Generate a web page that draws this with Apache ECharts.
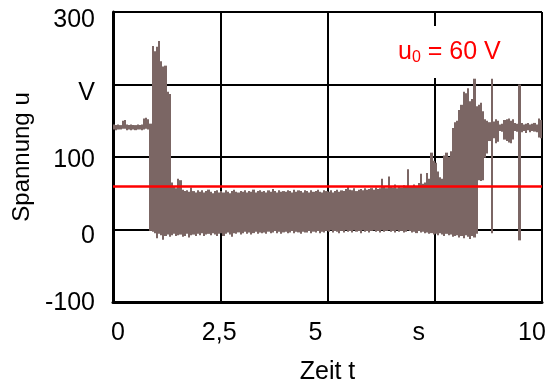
<!DOCTYPE html>
<html>
<head>
<meta charset="utf-8">
<script src="https://cdn.jsdelivr.net/npm/echarts@6/dist/echarts.min.js"></script>
<style>
  html, body { margin: 0; padding: 0; background: #fff; }
  #chart { width: 550px; height: 381px; }
</style>
</head>
<body>
<div id="chart"></div>
<script>
// Voltage trace u(t), stored as min/max per 0.05 s column (envelope of the sampled signal)
const sampleStep = 0.05; // s per column
const uMax = [
  145,144,145,144,150,151,145,144,145,144,
  144,145,144,145,153,154,152,146,253,246,
  252,260,232,225,226,190,187,65,60,57,
  70,68,55,53,54,52,58,53,51,54,
  52,54,51,53,55,52,50,53,54,51,
  53,51,54,52,50,53,55,52,51,53,
  52,54,51,53,52,55,51,53,54,52,
  53,51,54,52,56,53,51,54,52,53,
  52,54,53,51,55,52,54,53,51,54,
  53,51,54,52,53,55,52,51,54,53,
  52,54,51,53,55,52,54,53,56,60,
  55,54,57,53,55,56,54,57,55,56,
  57,55,58,56,57,70,59,57,73,60,
  58,62,57,59,58,61,60,83,60,59,
  62,60,64,77,63,65,78,70,106,95,
  92,80,72,70,102,106,100,108,140,148,
  150,165,172,190,188,195,177,180,208,170,
  172,175,163,152,150,148,208,149,152,150,
  145,146,151,152,153,150,152,147,146,200,
  147,145,146,147,145,146,147,145,153,151
];
const uMin = [
  138,137,138,138,139,139,137,138,137,138,
  137,138,138,137,138,139,138,-2,-3,-5,
  -12,-6,-8,-14,-9,-7,-10,-8,-6,-9,
  -8,-7,-10,-9,-6,-11,-8,-7,-9,-6,
  -8,-5,-9,-7,-6,-8,-5,-7,-9,-6,
  -5,-9,-6,-4,-7,-10,-5,-6,-4,-7,
  -5,-3,-6,-4,-7,-5,-3,-6,-4,-5,
  -4,-6,-3,-5,-4,-2,-5,-3,-6,-4,
  -3,-5,-4,-2,-5,-3,-4,-6,-3,-4,
  -4,-2,-5,-3,-4,-2,-5,-3,-4,-2,
  -3,-1,-4,-2,-3,-5,-2,-4,-1,-3,
  -2,-4,-1,-3,-2,-5,-1,-3,-2,-4,
  -2,-1,-3,-2,-4,-1,-3,-2,-1,-3,
  -2,-4,-1,-3,-2,-4,-3,-1,-2,-4,
  -3,-5,-2,-4,-3,-5,-4,-6,-5,-7,
  -6,-8,-5,-7,-9,-6,-8,-7,-10,-9,
  -8,-11,-9,-12,-8,-10,-13,-9,-11,-6,
  68,67,68,99,105,122,-5,126,119,121,
  136,135,124,122,120,119,124,136,135,-15,
  134,136,133,137,134,136,135,134,127,126
];
const u0Level = 60; // V
const xTickLabels = ['0', '2,5', '5', 's', '10'];
const yTickLabels = ['-100', '0', '100', 'V', '300'];

// label nudges (px): x to the right, y downward
const xLabelShift = [5, -1, -12, -16, -10];
const yLabelShift = [1, 7, 3, 9, 8];

const traceData = uMax.map((hi, i) => [i * sampleStep, uMin[i], hi]);

const fontFamily = 'Liberation Sans, Arial, sans-serif';
const traceColor = '#7b6664';

const xRich = {};
xLabelShift.forEach((s, i) => {
  xRich['x' + i] = { fontSize: 25, fontFamily, color: '#000',
    padding: s >= 0 ? [0, 0, 0, 2 * s] : [0, -2 * s, 0, 0] };
});
const yRich = {};
yLabelShift.forEach((s, i) => {
  yRich['y' + i] = { fontSize: 25, fontFamily, color: '#000',
    padding: s >= 0 ? [2 * s, 0, 0, 0] : [0, 0, -2 * s, 0] };
});

const chart = echarts.init(document.getElementById('chart'), null, { renderer: 'canvas' });
chart.setOption({
  animation: false,
  backgroundColor: '#fff',
  grid: { left: 113, right: 8, top: 12, bottom: 79, outerBoundsMode: 'none', containLabel: false },
  xAxis: {
    type: 'value', min: 0, max: 10, interval: 2.5,
    name: 'Zeit t', nameLocation: 'middle', nameGap: 58,
    nameTextStyle: { fontSize: 25, fontFamily, color: '#000' },
    axisLine: { show: true, onZero: false, lineStyle: { color: '#000', width: 3 } },
    axisTick: { show: false },
    axisLabel: {
      margin: 19,
      formatter: (v) => { const k = Math.round(v / 2.5); return '{x' + k + '|' + xTickLabels[k] + '}'; },
      rich: xRich
    },
    splitLine: { show: true, lineStyle: { color: '#000', width: 2 } }
  },
  yAxis: {
    type: 'value', min: -100, max: 300, interval: 100,
    name: 'Spannung u', nameLocation: 'middle', nameGap: 79,
    nameTextStyle: { fontSize: 24, fontFamily, color: '#000' },
    axisLine: { show: true, onZero: false, lineStyle: { color: '#000', width: 3 } },
    axisTick: { show: false },
    axisLabel: {
      margin: 18,
      formatter: (v) => { const k = Math.round((v + 100) / 100); return '{y' + k + '|' + yTickLabels[k] + '}'; },
      rich: yRich
    },
    splitLine: { show: true, lineStyle: { color: '#000', width: 2 } }
  },
  series: [
    {
      name: 'u',
      type: 'custom',
      data: traceData,
      encode: { x: 0, y: [1, 2] },
      renderItem: (params, api) => {
        const t = api.value(0);
        const top = api.coord([t, api.value(2)]);
        const bot = api.coord([t + sampleStep, api.value(1)]);
        // snap column edges to whole pixels so neighbouring columns join without seams
        const x0 = Math.round(top[0]);
        const x1 = Math.round(bot[0]);
        return {
          type: 'rect',
          shape: { x: x0, y: top[1], width: Math.max(1, x1 - x0), height: bot[1] - top[1] },
          style: { fill: traceColor, stroke: null, lineWidth: 0 }
        };
      },
      z: 3
    },
    {
      name: 'u0',
      type: 'line',
      data: [],
      markLine: {
        silent: true,
        symbol: 'none',
        label: { show: false },
        lineStyle: { color: '#ff0000', width: 2.5, type: 'solid' },
        data: [{ yAxis: u0Level }]
      },
      z: 4
    }
  ],
  graphic: [{
    type: 'text',
    left: 392,
    top: 26,
    z: 10,
    style: {
      text: '{u|u}{s|0}{u| = ' + u0Level + ' V}',
      backgroundColor: '#fff',
      padding: [12, 6, 12, 6],
      rich: {
        u: { fontSize: 25, fontFamily, fill: '#ff0000', color: '#ff0000' },
        s: { fontSize: 16, fontFamily, fill: '#ff0000', color: '#ff0000', padding: [12, 0, 0, 0] }
      }
    }
  }]
});
</script>
</body>
</html>
